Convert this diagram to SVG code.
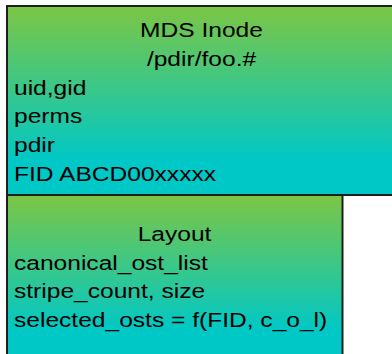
<svg xmlns="http://www.w3.org/2000/svg" width="392" height="354" viewBox="0 0 392 354">
<style>
.box{stroke:#1e1e1e;stroke-width:2}
.t{font-family:"Liberation Sans",Arial,Helvetica,sans-serif;font-size:21px;fill:#000}
.c{text-anchor:middle}
</style>
<defs>
<linearGradient id="g" x1="0" y1="0" x2="0" y2="1">
<stop offset="0" stop-color="#7CC644"/>
<stop offset="0.82" stop-color="#00C8C6"/>
<stop offset="1" stop-color="#00C8C6"/>
</linearGradient>
</defs>
<g id="mds-inode">
<rect class="box" x="7" y="6" width="392" height="189" fill="url(#g)"/>
<g transform="translate(201.5,0) scale(1.17,1)">
<text class="t c" x="0" y="37">MDS Inode</text>
<text class="t c" x="0" y="65.8">/pdir/foo.#</text>
</g>
<g transform="translate(14,0) scale(1.17,1)">
<text class="t" x="0" y="94.6">uid,gid</text>
<text class="t" x="0" y="123.4">perms</text>
<text class="t" x="0" y="152.2">pdir</text>
<text class="t" x="0" y="181">FID ABCD00xxxxx</text>
</g>
</g>
<g id="layout">
<rect class="box" x="7" y="195" width="335.5" height="165" fill="url(#g)"/>
<g transform="translate(174.5,0) scale(1.17,1)">
<text class="t c" x="0" y="241">Layout</text>
</g>
<g transform="translate(14,0) scale(1.17,1)">
<text class="t" x="0" y="269.7">canonical_ost_list</text>
<text class="t" x="0" y="298.4">stripe_count, size</text>
<text class="t" x="0" y="327">selected_osts = f(FID, c_o_l)</text>
</g>
</g>
<g id="connectors"/>
</svg>
